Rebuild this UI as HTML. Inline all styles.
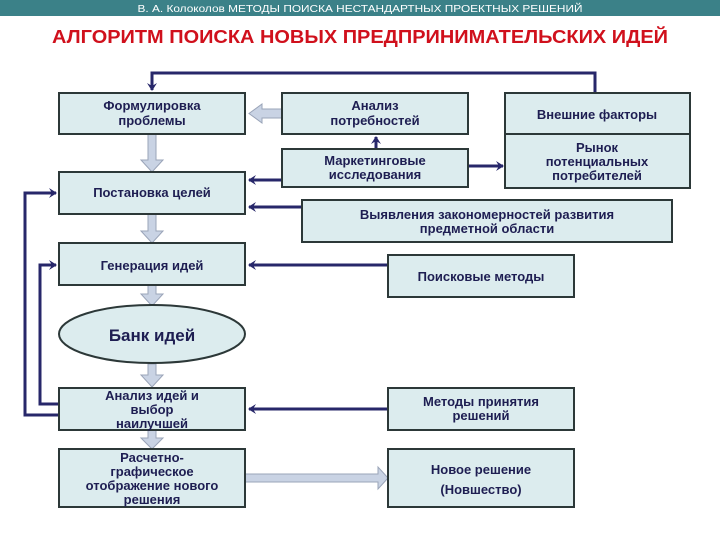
<!DOCTYPE html>
<html><head><meta charset="utf-8"><style>
html,body{margin:0;padding:0;background:#fff;width:720px;height:540px;overflow:hidden}
svg text{font-family:"Liberation Sans",sans-serif;font-weight:bold}
</style></head><body>
<svg width="720" height="540" viewBox="0 0 720 540" xmlns="http://www.w3.org/2000/svg">
<defs>
<marker id="ah" markerWidth="8" markerHeight="10" refX="7" refY="5" orient="auto" markerUnits="userSpaceOnUse">
<path d="M0,0 L8,5 L0,10 L3,5 Z" fill="#27276a"/></marker>
</defs>
<rect x="0" y="0" width="720" height="16" fill="#3b8188"/>
<text x="360" y="12" font-size="10" fill="#fff" text-anchor="middle" style="font-weight:normal" textLength="445" lengthAdjust="spacingAndGlyphs">В. А. Колоколов  МЕТОДЫ  ПОИСКА  НЕСТАНДАРТНЫХ  ПРОЕКТНЫХ  РЕШЕНИЙ</text>
<text x="360" y="43" font-size="18" fill="#d0101c" text-anchor="middle" textLength="616" lengthAdjust="spacingAndGlyphs">АЛГОРИТМ ПОИСКА НОВЫХ ПРЕДПРИНИМАТЕЛЬСКИХ ИДЕЙ</text>

<g fill="none" stroke="#27276a" stroke-width="3">
<polyline points="595,93 595,73 152,73 152,90" marker-end="url(#ah)"/>
<polyline points="59,415 25,415 25,193 56,193" marker-end="url(#ah)"/>
<polyline points="59,404 40,404 40,265 56,265" marker-end="url(#ah)"/>
<line x1="376" y1="149" x2="376" y2="137" marker-end="url(#ah)"/>
<line x1="282" y1="180" x2="249" y2="180" marker-end="url(#ah)"/>
<line x1="468" y1="166" x2="503" y2="166" marker-end="url(#ah)"/>
<line x1="302" y1="207" x2="249" y2="207" marker-end="url(#ah)"/>
<line x1="388" y1="265" x2="249" y2="265" marker-end="url(#ah)"/>
<line x1="388" y1="409" x2="249" y2="409" marker-end="url(#ah)"/>
</g>

<g fill="#c9d3e4" stroke="#9aa4b8" stroke-width="1">
<path d="M282,109 L262,109 L262,104 L249,113.5 L262,123 L262,118 L282,118 Z"/>
<path d="M245,474 L378,474 L378,467 L388,478 L378,489 L378,482 L245,482 Z"/>
<path d="M148,134 L156,134 L156,160 L163,160 L152,172 L141,160 L148,160 Z"/>
<path d="M148,214 L156,214 L156,231 L163,231 L152,243 L141,231 L148,231 Z"/>
<path d="M148,285 L156,285 L156,294 L163,294 L152,306 L141,294 L148,294 Z"/>
<path d="M148,364 L156,364 L156,375 L163,375 L152,387 L141,375 L148,375 Z"/>
<path d="M148,430 L156,430 L156,438 L163,438 L152,449 L141,438 L148,438 Z"/>
</g>

<g fill="#dcecee" stroke="#2c3838" stroke-width="2">
<rect x="59" y="93" width="186" height="41"/>
<rect x="282" y="93" width="186" height="41"/>
<rect x="505" y="93" width="185" height="41"/>
<rect x="505" y="134" width="185" height="54"/>
<rect x="282" y="149" width="186" height="38"/>
<rect x="59" y="172" width="186" height="42"/>
<rect x="302" y="200" width="370" height="42"/>
<rect x="59" y="243" width="186" height="42"/>
<rect x="388" y="255" width="186" height="42"/>
<ellipse cx="152" cy="334" rx="93" ry="29"/>
<rect x="59" y="388" width="186" height="42"/>
<rect x="388" y="388" width="186" height="42"/>
<rect x="59" y="449" width="186" height="58"/>
<rect x="388" y="449" width="186" height="58"/>
</g>

<g fill="#1e1e52" font-size="13" text-anchor="middle">
<text x="152" y="110">Формулировка</text><text x="152" y="125">проблемы</text>
<text x="375" y="110">Анализ</text><text x="375" y="125">потребностей</text>
<text x="597" y="119">Внешние факторы</text>
<text x="597" y="152">Рынок</text><text x="597" y="166">потенциальных</text><text x="597" y="180">потребителей</text>
<text x="375" y="165">Маркетинговые</text><text x="375" y="179">исследования</text>
<text x="152" y="197">Постановка целей</text>
<text x="487" y="219">Выявления закономерностей развития</text><text x="487" y="233">предметной области</text>
<text x="152" y="270">Генерация идей</text>
<text x="481" y="281">Поисковые методы</text>
<text x="152" y="341" font-size="17">Банк идей</text>
<text x="152" y="400">Анализ идей и</text><text x="152" y="414">выбор</text><text x="152" y="428">наилучшей</text>
<text x="481" y="406">Методы принятия</text><text x="481" y="420">решений</text>
<text x="152" y="462">Расчетно-</text><text x="152" y="476">графическое</text><text x="152" y="490">отображение нового</text><text x="152" y="504">решения</text>
<text x="481" y="474">Новое решение</text><text x="481" y="494">(Новшество)</text>
</g>
</svg>
</body></html>
